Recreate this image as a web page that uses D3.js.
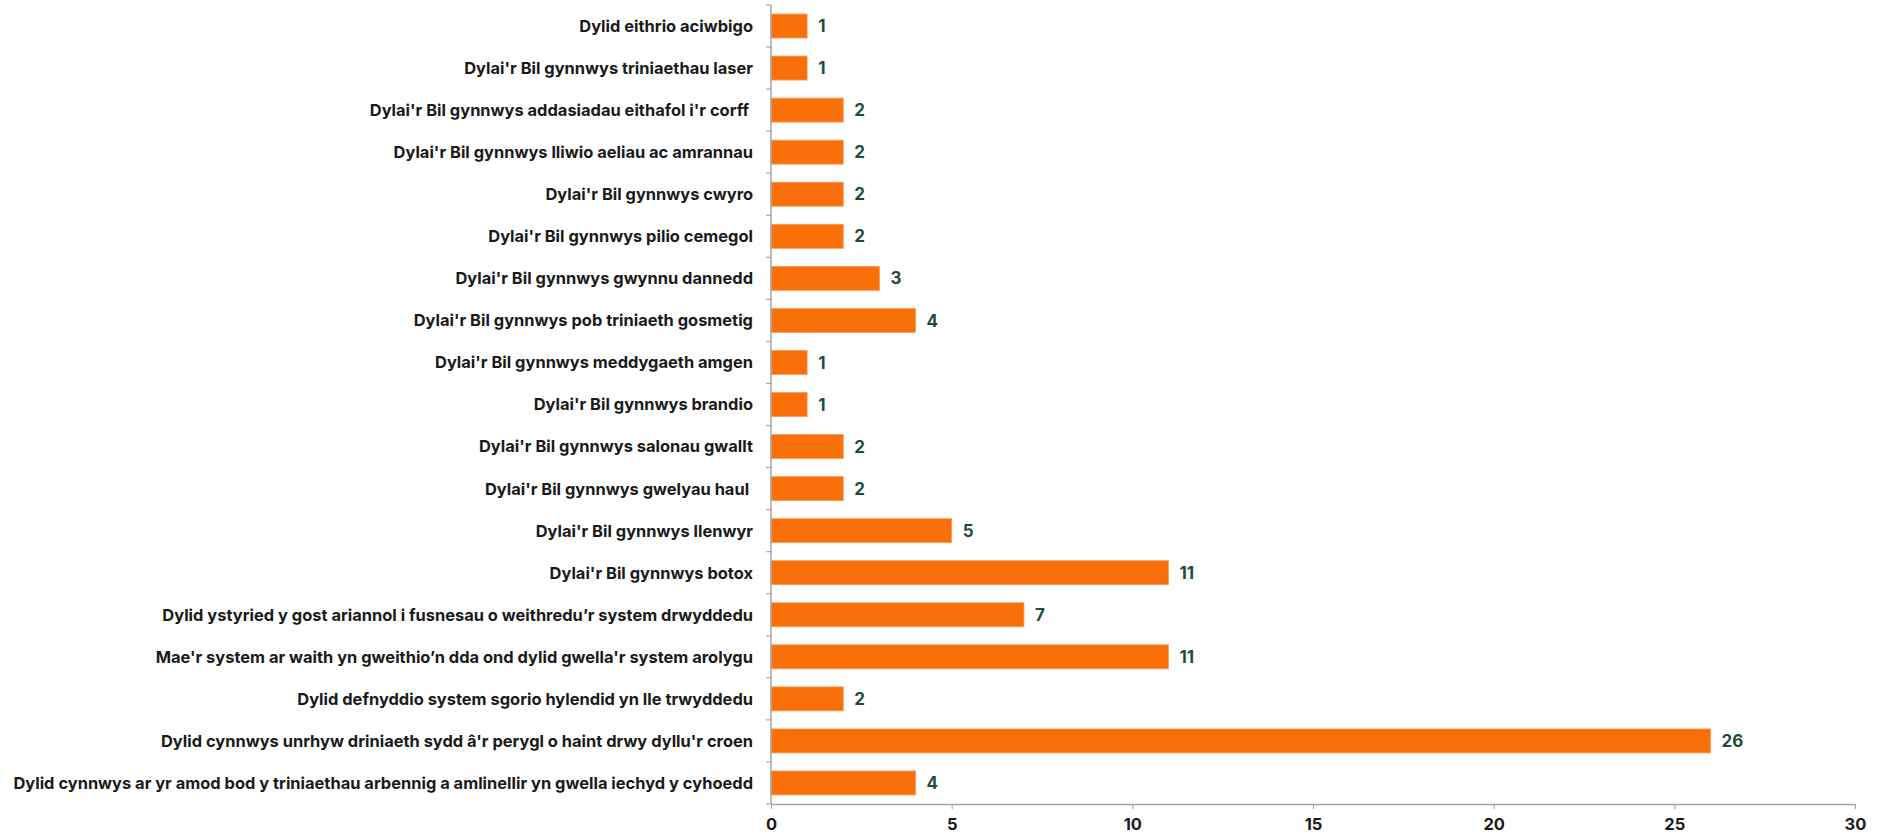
<!DOCTYPE html>
<html>
<head>
<meta charset="utf-8">
<script src="https://cdn.jsdelivr.net/npm/d3@7/dist/d3.min.js"></script>
<style>
  html, body { margin: 0; padding: 0; background: #fff; }
  svg { display: block; }
  text { font-family: Inter, "Open Sans", sans-serif; font-weight: 700; }
</style>
</head>
<body>
<svg id="chart" width="1887" height="837"></svg>
<script>
const categories = [
  "Dylid eithrio aciwbigo",
  "Dylai'r Bil gynnwys triniaethau laser",
  "Dylai'r Bil gynnwys addasiadau eithafol i'r corff ",
  "Dylai'r Bil gynnwys lliwio aeliau ac amrannau",
  "Dylai'r Bil gynnwys cwyro",
  "Dylai'r Bil gynnwys pilio cemegol",
  "Dylai'r Bil gynnwys gwynnu dannedd",
  "Dylai'r Bil gynnwys pob triniaeth gosmetig",
  "Dylai'r Bil gynnwys meddygaeth amgen",
  "Dylai'r Bil gynnwys brandio",
  "Dylai'r Bil gynnwys salonau gwallt",
  "Dylai'r Bil gynnwys gwelyau haul ",
  "Dylai'r Bil gynnwys llenwyr",
  "Dylai'r Bil gynnwys botox",
  "Dylid ystyried y gost ariannol i fusnesau o weithredu\u2019r system drwyddedu",
  "Mae'r system ar waith yn gweithio\u2019n dda ond dylid gwella'r system arolygu",
  "Dylid defnyddio system sgorio hylendid yn lle trwyddedu",
  "Dylid cynnwys unrhyw driniaeth sydd \u00e2'r perygl o haint drwy dyllu'r croen",
  "Dylid cynnwys ar yr amod bod y triniaethau arbennig a amlinellir yn gwella iechyd y cyhoedd"
];
const values = [1, 1, 2, 2, 2, 2, 3, 4, 1, 1, 2, 2, 5, 11, 7, 11, 2, 26, 4];
const xTicks = [0, 5, 10, 15, 20, 25, 30];

const svg = d3.select("#chart");
const margin = { top: 5, left: 771, right: 32, bottom: 33 };
const W = 1887, H = 837;

const x = d3.scaleLinear().domain([0, 30]).range([margin.left, W - margin.right]);
const y = d3.scaleBand().domain(categories).range([margin.top, H - margin.bottom]).paddingInner(0.43).paddingOuter(0.215);

const axisColor = "#a6a6a6";

// bars
svg.append("g").selectAll("rect").data(values).join("rect")
  .attr("x", x(0))
  .attr("y", (d, i) => y(categories[i]))
  .attr("width", d => x(d) - x(0))
  .attr("height", y.bandwidth())
  .attr("fill", "#f9700b")
  .attr("stroke", "#fb9a55")
  .attr("stroke-width", 0.8);

// value labels
svg.append("g").selectAll("text").data(values).join("text")
  .attr("x", d => x(d) + 11)
  .attr("y", (d, i) => y(categories[i]) + y.bandwidth() / 2)
  .attr("dy", "0.36em")
  .attr("fill", "#1f4b3c")
  .attr("font-size", 17)
  .text(d => d);

// x axis
const xAxis = svg.append("g")
  .attr("transform", `translate(0,${H - margin.bottom})`)
  .call(d3.axisBottom(x).tickValues(xTicks).tickSize(5).tickPadding(9).tickSizeOuter(0));
xAxis.select(".domain").attr("stroke", axisColor).attr("stroke-width", 1.5);
xAxis.selectAll(".tick line").attr("stroke", axisColor).attr("stroke-width", 1.2);
xAxis.selectAll("text").attr("font-size", 16.5).attr("fill", "#1a1a1a")
  .style("font-family", "Inter, sans-serif").style("font-weight", 700);

// y axis: ticks at category boundaries
const yAxisG = svg.append("g");
const yTop = margin.top, yBot = H - margin.bottom;
yAxisG.append("line")
  .attr("x1", x(0)).attr("x2", x(0)).attr("y1", yTop).attr("y2", yBot)
  .attr("stroke", axisColor).attr("stroke-width", 1.5);
const step = (yBot - yTop) / categories.length;
yAxisG.selectAll("line.tk").data(d3.range(categories.length + 1)).join("line")
  .attr("class", "tk")
  .attr("x1", x(0) - 5).attr("x2", x(0))
  .attr("y1", i => yTop + i * step).attr("y2", i => yTop + i * step)
  .attr("stroke", axisColor).attr("stroke-width", 1.2);

// category labels
yAxisG.selectAll("text").data(categories).join("text")
  .attr("x", x(0) - 18)
  .attr("y", d => y(d) + y.bandwidth() / 2)
  .attr("dy", "0.36em")
  .attr("text-anchor", "end")
  .attr("font-size", 16.45)
  .attr("fill", "#1a1a1a")
  .style("white-space", "pre")
  .text(d => d);
</script>
</body>
</html>
